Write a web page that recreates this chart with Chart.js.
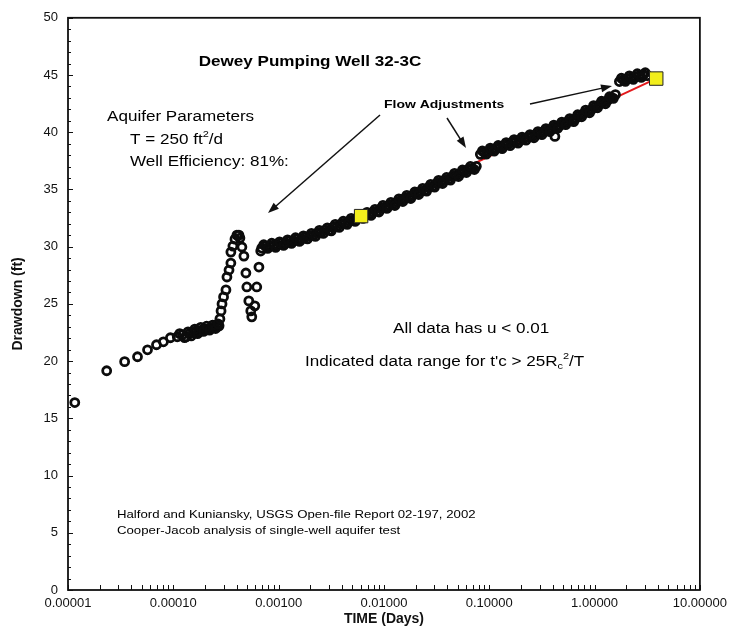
<!DOCTYPE html>
<html>
<head>
<meta charset="utf-8">
<script src="https://cdn.jsdelivr.net/npm/chart.js@4.4.0/dist/chart.umd.min.js"></script>
<style>
  html, body { margin: 0; padding: 0; background: #fff; }
  canvas { display: block; }
</style>
</head>
<body>
<canvas id="chart" width="733" height="629"></canvas>
<script>
// drawdown readings (time in days, drawdown in ft)
// the dense part of the record is read twice, along both edges of the band
const timeDays = [
  // early time and the first step
  1.16e-5, 2.33e-5, 3.45e-5, 4.57e-5, 5.69e-5, 6.92e-5, 8.05e-5, 9.38e-5,
  1.09e-4, 1.22e-4, 1.33e-4, 1.42e-4, 1.55e-4, 1.65e-4, 1.76e-4, 1.88e-4,
  2.00e-4, 2.14e-4, 2.28e-4, 2.44e-4, 2.60e-4, 2.72e-4,
  1.15e-4, 1.28e-4, 1.38e-4, 1.48e-4, 1.60e-4, 1.70e-4, 1.82e-4, 1.94e-4,
  2.07e-4, 2.21e-4, 2.36e-4, 2.52e-4, 2.66e-4,
  2.77e-4, 2.84e-4, 2.90e-4, 3.00e-4, 3.16e-4, 3.23e-4, 3.38e-4, 3.52e-4,
  3.52e-4, 3.68e-4, 3.85e-4, 4.02e-4, 4.20e-4, 4.29e-4,
  4.48e-4, 4.68e-4, 4.89e-4, 4.99e-4, 5.21e-4, 5.44e-4, 5.56e-4, 5.94e-4,
  6.20e-4, 6.50e-4, 6.76e-4,
  // main trend up to the first flow adjustment
  6.91e-4, 7.54e-4, 8.23e-4, 8.97e-4, 9.78e-4, 1.067e-3, 1.164e-3, 1.270e-3,
  1.385e-3, 1.511e-3, 1.648e-3, 1.798e-3, 1.961e-3, 2.139e-3, 2.333e-3, 2.545e-3,
  2.776e-3, 3.028e-3, 3.303e-3, 3.603e-3, 3.930e-3, 4.286e-3, 4.675e-3, 5.100e-3,
  5.563e-3, 6.068e-3, 6.618e-3, 7.219e-3, 7.875e-3, 8.590e-3, 9.370e-3, 1.022e-2,
  1.115e-2, 1.216e-2, 1.327e-2, 1.447e-2, 1.578e-2, 1.721e-2, 1.878e-2, 2.048e-2,
  2.234e-2, 2.437e-2, 2.658e-2, 2.900e-2, 3.162e-2, 3.449e-2, 3.763e-2, 4.104e-2,
  4.477e-2, 4.884e-2, 5.327e-2, 5.811e-2, 6.338e-2, 6.914e-2, 7.542e-2,
  7.22e-4, 7.87e-4, 8.60e-4, 9.37e-4, 1.021e-3, 1.114e-3, 1.216e-3, 1.326e-3,
  1.447e-3, 1.578e-3, 1.721e-3, 1.878e-3, 2.048e-3, 2.234e-3, 2.437e-3, 2.658e-3,
  2.900e-3, 3.162e-3, 3.449e-3, 3.763e-3, 4.104e-3, 4.477e-3, 4.884e-3, 5.327e-3,
  5.811e-3, 6.338e-3, 6.912e-3, 7.540e-3, 8.225e-3, 8.971e-3, 9.786e-3, 1.067e-2,
  1.164e-2, 1.270e-2, 1.386e-2, 1.511e-2, 1.648e-2, 1.797e-2, 1.961e-2, 2.139e-2,
  2.333e-2, 2.545e-2, 2.776e-2, 3.029e-2, 3.302e-2, 3.602e-2, 3.930e-2, 4.286e-2,
  4.676e-2, 5.101e-2, 5.563e-2, 6.069e-2, 6.619e-2, 7.221e-2,
  // after the first flow adjustment
  8.227e-2, 8.974e-2, 9.786e-2, 0.1067, 0.1164, 0.1270, 0.1385, 0.1511,
  0.1648, 0.1798, 0.1961, 0.2139, 0.2333, 0.2545, 0.2776, 0.3028,
  0.3303, 0.3603, 0.3930, 0.42, 0.4286, 0.4675, 0.5100, 0.5563, 0.6068,
  0.6618, 0.7219, 0.7875, 0.8590, 0.9370, 1.022, 1.115, 1.216,
  1.327, 1.447, 1.578,
  8.592e-2, 9.372e-2, 0.1022, 0.1114, 0.1216, 0.1326, 0.1447, 0.1578,
  0.1721, 0.1878, 0.2048, 0.2234, 0.2437, 0.2658, 0.2899, 0.3162,
  0.3450, 0.3763, 0.4104, 0.4476, 0.4883, 0.5326, 0.5810, 0.6337,
  0.6912, 0.7540, 0.8225, 0.8971, 0.9786, 1.067, 1.164, 1.270,
  1.386, 1.511,
  // after the second flow adjustment
  1.721, 1.878, 2.048, 2.234, 2.437, 2.658, 2.900, 3.162,
  1.797, 1.961, 2.139, 2.333, 2.545, 2.776, 3.029
];
const drawdownFt = [
  16.38, 19.16, 19.95, 20.38, 20.99, 21.43, 21.69, 22.04,
  22.13, 22.30, 22.13, 22.39, 22.47, 22.65, 22.56, 22.74,
  22.82, 22.82, 22.91, 23.00, 23.00, 23.08,
  22.40, 22.05, 22.55, 22.20, 22.80, 22.40, 22.95, 22.60,
  23.05, 22.70, 23.15, 22.85, 23.25,
  23.69, 24.39, 25.00, 25.61, 26.22, 27.35, 27.96, 28.57,
  29.53, 30.05, 30.66, 31.01, 31.01, 30.75,
  29.97, 29.18, 27.70, 26.48, 25.26, 24.39, 23.87, 24.83,
  26.48, 28.22, 29.62,
  29.88, 30.05, 30.05, 30.14, 30.14, 30.31, 30.31, 30.49,
  30.49, 30.66, 30.66, 30.84, 30.92, 31.01, 31.18, 31.27,
  31.45, 31.45, 31.71, 31.79, 31.97, 32.06, 32.23, 32.32,
  32.49, 32.58, 32.75, 32.84, 33.01, 33.10, 33.36, 33.45,
  33.62, 33.71, 33.89, 34.06, 34.23, 34.32, 34.49, 34.67,
  34.84, 34.93, 35.19, 35.28, 35.54, 35.63, 35.80, 35.89,
  36.15, 36.24, 36.41, 36.59, 36.76, 36.85, 37.02,
  30.17, 29.85, 30.30, 29.94, 30.42, 30.11, 30.60, 30.29,
  30.78, 30.46, 30.95, 30.68, 31.17, 30.90, 31.43, 31.16,
  31.65, 31.38, 31.95, 31.68, 32.22, 31.95, 32.48, 32.21,
  32.74, 32.47, 33.00, 32.73, 33.26, 33.03, 33.61, 33.34,
  33.87, 33.60, 34.18, 33.95, 34.48, 34.21, 34.78, 34.56,
  35.09, 34.86, 35.44, 35.21, 35.79, 35.52, 36.05, 35.82,
  36.40, 36.13, 36.70, 36.48, 37.01, 36.74,
  38.07, 38.24, 38.33, 38.50, 38.59, 38.68, 38.85, 38.94,
  39.11, 39.20, 39.29, 39.46, 39.55, 39.63, 39.81, 39.90,
  40.07, 40.16, 40.33, 39.63, 40.51, 40.59, 40.77, 40.94, 41.03,
  41.20, 41.46, 41.64, 41.81, 41.99, 42.25, 42.42, 42.60,
  42.77, 43.03, 43.29,
  38.36, 38.09, 38.62, 38.35, 38.84, 38.57, 39.10, 38.83,
  39.36, 39.05, 39.58, 39.31, 39.79, 39.52, 40.06, 39.79,
  40.32, 40.05, 40.62, 40.35, 40.88, 40.66, 41.19, 40.92,
  41.53, 41.35, 41.93, 41.70, 42.32, 42.14, 42.71, 42.49,
  43.10, 42.96,
  44.43, 44.60, 44.69, 44.77, 44.86, 44.95, 45.03, 44.95,
  44.72, 44.45, 44.93, 44.62, 45.11, 44.79, 45.20
];

// the two picked points of the Cooper-Jacob straight line
const fitTimeDays = [0.00607, 3.85];
const fitDrawdownFt = [32.67, 44.69];

const decadeTicks = [0.00001, 0.0001, 0.001, 0.01, 0.1, 1, 10];
const drawdownTicks = [0, 5, 10, 15, 20, 25, 30, 35, 40, 45, 50];

// every 1..9 x decade gets a small tick mark, only decades get a label
const timeTicks = [];
decadeTicks.forEach((d, i) => {
  if (i === decadeTicks.length - 1) { timeTicks.push(d); return; }
  for (let m = 1; m <= 9; m++) timeTicks.push(m * d);
});

const FONT = 'Arial, Helvetica, sans-serif';

// text drawn on the plot, with a horizontal stretch like the scanned original
const notes = [
  { parts: [{ t: 'Dewey Pumping Well 32-3C' }], x: 310, y: 62, size: 14, bold: true, align: 'center', sx: 1.22 },
  { parts: [{ t: 'Aquifer Parameters' }], x: 107, y: 117, size: 14, sx: 1.22 },
  { parts: [{ t: 'T = 250 ft' }, { t: '2', sup: true }, { t: '/d' }], x: 130, y: 140, size: 14, sx: 1.22 },
  { parts: [{ t: 'Well Efficiency: 81%:' }], x: 130, y: 162, size: 14, sx: 1.22 },
  { parts: [{ t: 'Flow Adjustments' }], x: 384, y: 105, size: 11, bold: true, sx: 1.27 },
  { parts: [{ t: 'All data has u < 0.01' }], x: 393, y: 329, size: 14, sx: 1.22 },
  { parts: [{ t: "Indicated data range for t'c > 25R" }, { t: 'c', sub: true }, { t: '2', sup: true }, { t: '/T' }], x: 305, y: 362, size: 14, sx: 1.22 },
  { parts: [{ t: 'Halford and Kuniansky, USGS Open-file Report 02-197, 2002' }], x: 117, y: 515, size: 11, sx: 1.2 },
  { parts: [{ t: 'Cooper-Jacob analysis of single-well aquifer test' }], x: 117, y: 531, size: 11, sx: 1.2 }
];

const arrows = [
  { from: [380, 115], to: [268, 213] },
  { from: [447, 118], to: [466, 148] },
  { from: [530, 104], to: [612, 86] }
];

function drawNote(ctx, n) {
  const weight = n.bold ? 'bold ' : '';
  const small = Math.round(n.size * 0.65);
  let width = 0;
  n.parts.forEach(p => {
    ctx.font = weight + ((p.sup || p.sub) ? small : n.size) + 'px ' + FONT;
    p.w = ctx.measureText(p.t).width * n.sx;
    width += p.w;
  });
  let x = n.align === 'center' ? n.x - width / 2 : n.x;
  n.parts.forEach(p => {
    ctx.save();
    ctx.font = weight + ((p.sup || p.sub) ? small : n.size) + 'px ' + FONT;
    ctx.fillStyle = '#000';
    ctx.textBaseline = 'middle';
    let y = n.y;
    if (p.sup) y -= n.size * 0.38;
    if (p.sub) y += n.size * 0.3;
    ctx.translate(x, y);
    ctx.scale(n.sx, 1);
    ctx.fillText(p.t, 0, 0);
    ctx.restore();
    x += p.w;
  });
}

function drawArrow(ctx, a) {
  const [x1, y1] = a.from, [x2, y2] = a.to;
  const ang = Math.atan2(y2 - y1, x2 - x1);
  const len = 11, half = 4;
  ctx.save();
  ctx.strokeStyle = '#111';
  ctx.fillStyle = '#111';
  ctx.lineWidth = 1.5;
  ctx.beginPath();
  ctx.moveTo(x1, y1);
  ctx.lineTo(x2 - Math.cos(ang) * len * 0.8, y2 - Math.sin(ang) * len * 0.8);
  ctx.stroke();
  ctx.beginPath();
  ctx.moveTo(x2, y2);
  ctx.lineTo(x2 - Math.cos(ang) * len - Math.sin(ang) * half, y2 - Math.sin(ang) * len + Math.cos(ang) * half);
  ctx.lineTo(x2 - Math.cos(ang) * len + Math.sin(ang) * half, y2 - Math.sin(ang) * len - Math.cos(ang) * half);
  ctx.closePath();
  ctx.fill();
  ctx.restore();
}

// box round the plot, inward tick marks, then the notes and arrows
const framePlugin = {
  id: 'frame',
  beforeDatasetsDraw(chart) {
    const { ctx, chartArea: a, scales } = chart;
    ctx.save();
    ctx.strokeStyle = '#111';
    ctx.lineWidth = 1;
    ctx.beginPath();
    scales.x.ticks.forEach(t => {
      const px = Math.round(scales.x.getPixelForValue(t.value)) + 0.5;
      ctx.moveTo(px, a.bottom);
      ctx.lineTo(px, a.bottom - 5);
    });
    for (let v = 0; v <= 50; v++) {
      const py = Math.round(scales.y.getPixelForValue(v)) + 0.5;
      ctx.moveTo(a.left, py);
      ctx.lineTo(a.left + (v % 5 === 0 ? 5 : 3), py);
    }
    ctx.stroke();
    ctx.restore();
  },
  afterDraw(chart) {
    const { ctx, chartArea: a } = chart;
    ctx.save();
    ctx.strokeStyle = '#111';
    ctx.lineWidth = 1.8;
    ctx.strokeRect(a.left, a.top, a.right - a.left, a.bottom - a.top);
    ctx.restore();
    notes.forEach(n => drawNote(ctx, n));
    arrows.forEach(ar => drawArrow(ctx, ar));
  }
};

new Chart(document.getElementById('chart'), {
  type: 'scatter',
  data: {
    datasets: [
      {
        label: 'Picked points',
        data: fitTimeDays.map((t, i) => ({ x: t, y: fitDrawdownFt[i] })),
        pointStyle: 'rect',
        pointRadius: 9.5,
        backgroundColor: '#f2ee1c',
        borderColor: '#222',
        borderWidth: 1
      },
      {
        label: 'Drawdown',
        data: timeDays.map((t, i) => ({ x: t, y: drawdownFt[i] })),
        pointStyle: 'circle',
        pointRadius: 4,
        backgroundColor: 'rgba(0,0,0,0)',
        borderColor: '#0c0c0c',
        borderWidth: 2.8
      },
      {
        label: 'Cooper-Jacob line',
        data: fitTimeDays.map((t, i) => ({ x: t, y: fitDrawdownFt[i] })),
        showLine: true,
        pointRadius: 0,
        borderColor: '#e3191c',
        borderWidth: 2
      }
    ]
  },
  options: {
    responsive: false,
    animation: false,
    events: [],
    layout: { padding: { top: 13, right: 31, left: 0, bottom: 0 } },
    plugins: { legend: { display: false }, tooltip: { enabled: false } },
    scales: {
      x: {
        type: 'logarithmic',
        min: 0.00001,
        max: 10,
        afterBuildTicks: s => { s.ticks = timeTicks.map(v => ({ value: v })); },
        afterFit: s => { s.height = 39; },
        grid: { display: false, drawTicks: false },
        border: { display: false },
        ticks: {
          autoSkip: false,
          maxRotation: 0,
          padding: 6,
          color: '#111',
          font: { family: FONT, size: 13 },
          callback: v => decadeTicks.includes(v) ? v.toFixed(5) : ''
        },
        title: {
          display: true,
          text: 'TIME (Days)',
          color: '#111',
          font: { family: FONT, size: 14, weight: 'bold' },
          padding: { top: 0, bottom: 1 }
        }
      },
      y: {
        type: 'linear',
        min: 0,
        max: 50,
        afterBuildTicks: s => { s.ticks = drawdownTicks.map(v => ({ value: v })); },
        afterFit: s => { s.width = 68; },
        grid: { display: false, drawTicks: false },
        border: { display: false },
        ticks: {
          padding: 10,
          color: '#111',
          font: { family: FONT, size: 13 }
        },
        title: {
          display: true,
          text: 'Drawdown (ft)',
          color: '#111',
          font: { family: FONT, size: 14, weight: 'bold' },
          padding: { top: 10, bottom: 0 }
        }
      }
    }
  },
  plugins: [framePlugin]
});
</script>
</body>
</html>
